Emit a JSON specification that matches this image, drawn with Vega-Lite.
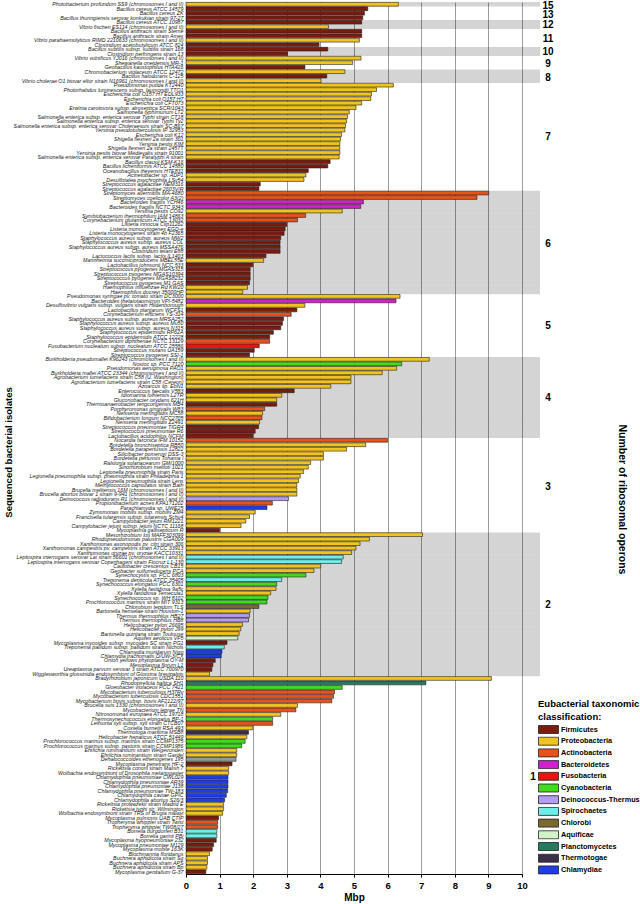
{
  "$schema": "https://vega.github.io/schema/vega-lite/v6.json",
  "width": 336,
  "height": 872,
  "autosize": {"type": "none"},
  "padding": {"left": 186, "top": 2, "right": 118, "bottom": 30},
  "background": "white",
  "config": {"font": "Liberation Sans", "view": {"stroke": null},
    "axisX": {"tickCount": 10, "grid": true, "gridColor": "#9c9c9c", "gridWidth": 1,
      "domainColor": "#000", "tickColor": "#000", "tickSize": 3, "labelFontSize": 9.5, "labelFontWeight": "bold",
      "labelColor": "#000", "labelPadding": 3, "labelFlush": false, "labelOverlap": false, "titleFontSize": 10,
      "titleFontWeight": "bold", "titleColor": "#000", "titlePadding": 3}},
  "data": {"values": [
    {"name": "Photobacterium profundum SS9 (chromosomes I and II)", "mbp": 6.32, "phylum": "Proteobacteria", "ops": 15},
    {"name": "Bacillus cereus ATCC 14579", "mbp": 5.41, "phylum": "Firmicutes", "ops": 13},
    {"name": "Bacillus cereus ZK", "mbp": 5.31, "phylum": "Firmicutes", "ops": 13},
    {"name": "Bacillus thuringiensis serovar konkukian strain 97-27", "mbp": 5.26, "phylum": "Firmicutes", "ops": 13},
    {"name": "Bacillus cereus ATCC 10987", "mbp": 5.23, "phylum": "Firmicutes", "ops": 12},
    {"name": "Vibrio fischeri ES114 (chromosomes I and II)", "mbp": 4.24, "phylum": "Proteobacteria", "ops": 12},
    {"name": "Bacillus anthracis strain Sterne", "mbp": 5.23, "phylum": "Firmicutes", "ops": 11},
    {"name": "Bacillus anthracis strain Ames", "mbp": 5.23, "phylum": "Firmicutes", "ops": 11},
    {"name": "Vibrio parahaemolyticus RIMD 2210633 (chromosomes I and II)", "mbp": 5.16, "phylum": "Proteobacteria", "ops": 11},
    {"name": "Clostridium acetobutylicum ATCC 824", "mbp": 3.96, "phylum": "Firmicutes", "ops": 11},
    {"name": "Bacillus subtilis subsp. subtilis strain 168", "mbp": 4.22, "phylum": "Firmicutes", "ops": 10},
    {"name": "Clostridium perfringens strain 13", "mbp": 3.02, "phylum": "Firmicutes", "ops": 10},
    {"name": "Vibrio vulnificus YJ016 (chromosomes I and II)", "mbp": 5.21, "phylum": "Proteobacteria", "ops": 9},
    {"name": "Shewanella oneidensis MR-1", "mbp": 4.96, "phylum": "Proteobacteria", "ops": 9},
    {"name": "Geobacillus kaustophilus HTA426", "mbp": 3.54, "phylum": "Firmicutes", "ops": 9},
    {"name": "Chromobacterium violaceum ATCC 12472", "mbp": 4.73, "phylum": "Proteobacteria", "ops": 8},
    {"name": "Bacillus halodurans C-125", "mbp": 4.19, "phylum": "Firmicutes", "ops": 8},
    {"name": "Vibrio cholerae O1 biovar eltor strain N16961 (chromosomes I and II)", "mbp": 4.02, "phylum": "Proteobacteria", "ops": 8},
    {"name": "Pseudomonas putida KT2440", "mbp": 6.17, "phylum": "Proteobacteria", "ops": 7},
    {"name": "Photorhabdus luminescens subsp. laumondii TTO1", "mbp": 5.67, "phylum": "Proteobacteria", "ops": 7},
    {"name": "Escherichia coli O157:H7 EDL933", "mbp": 5.52, "phylum": "Proteobacteria", "ops": 7},
    {"name": "Escherichia coli O157:H7", "mbp": 5.5, "phylum": "Proteobacteria", "ops": 7},
    {"name": "Escherichia coli CFT073", "mbp": 5.23, "phylum": "Proteobacteria", "ops": 7},
    {"name": "Erwinia carotovora subsp. atroseptica SCRI1043", "mbp": 5.06, "phylum": "Proteobacteria", "ops": 7},
    {"name": "Salmonella typhimurium LT2", "mbp": 4.86, "phylum": "Proteobacteria", "ops": 7},
    {"name": "Salmonella enterica subsp. enterica serovar Typhi strain CT18", "mbp": 4.81, "phylum": "Proteobacteria", "ops": 7},
    {"name": "Salmonella enterica subsp. enterica serovar Typhi Ty2", "mbp": 4.78, "phylum": "Proteobacteria", "ops": 7},
    {"name": "Salmonella enterica subsp. enterica serovar Choleraesuis strain SC-B67", "mbp": 4.75, "phylum": "Proteobacteria", "ops": 7},
    {"name": "Yersinia pseudotuberculosis IP 32953", "mbp": 4.73, "phylum": "Proteobacteria", "ops": 7},
    {"name": "Escherichia coli K12", "mbp": 4.63, "phylum": "Proteobacteria", "ops": 7},
    {"name": "Shigella flexneri 2a strain 301", "mbp": 4.6, "phylum": "Proteobacteria", "ops": 7},
    {"name": "Yersinia pestis KIM", "mbp": 4.58, "phylum": "Proteobacteria", "ops": 7},
    {"name": "Shigella flexneri 2a strain 2457T", "mbp": 4.58, "phylum": "Proteobacteria", "ops": 7},
    {"name": "Yersinia pestis biovar Medievalis strain 91001", "mbp": 4.58, "phylum": "Proteobacteria", "ops": 7},
    {"name": "Salmonella enterica subsp. enterica serovar Paratyphi A strain", "mbp": 4.56, "phylum": "Proteobacteria", "ops": 7},
    {"name": "Bacillus clausii KSM-K16", "mbp": 4.29, "phylum": "Firmicutes", "ops": 7},
    {"name": "Bacillus licheniformis ATCC 14580", "mbp": 4.22, "phylum": "Firmicutes", "ops": 7},
    {"name": "Oceanobacillus iheyensis HTE831", "mbp": 3.64, "phylum": "Firmicutes", "ops": 7},
    {"name": "Acinetobacter sp. ADP1", "mbp": 3.57, "phylum": "Proteobacteria", "ops": 7},
    {"name": "Desulfotalea psychrophila LSv54", "mbp": 3.51, "phylum": "Proteobacteria", "ops": 7},
    {"name": "Streptococcus agalactiae NEM316", "mbp": 2.21, "phylum": "Firmicutes", "ops": 7},
    {"name": "Streptococcus agalactiae 2603V/R", "mbp": 2.17, "phylum": "Firmicutes", "ops": 7},
    {"name": "Streptomyces avermitilis MA-4680", "mbp": 9.01, "phylum": "Actinobacteria", "ops": 6},
    {"name": "Streptomyces coelicolor A3(2)", "mbp": 8.66, "phylum": "Actinobacteria", "ops": 6},
    {"name": "Bacteroides fragilis YCH46", "mbp": 5.28, "phylum": "Bacteroidetes", "ops": 6},
    {"name": "Bacteroides fragilis NCTC 9343", "mbp": 5.2, "phylum": "Bacteroidetes", "ops": 6},
    {"name": "Yersinia pestis CO92", "mbp": 4.65, "phylum": "Proteobacteria", "ops": 6},
    {"name": "Symbiobacterium thermophilum IAM 14863", "mbp": 3.56, "phylum": "Actinobacteria", "ops": 6},
    {"name": "Corynebacterium glutamicum ATCC 13032", "mbp": 3.32, "phylum": "Actinobacteria", "ops": 6},
    {"name": "Listeria innocua Clip11262", "mbp": 3.0, "phylum": "Firmicutes", "ops": 6},
    {"name": "Listeria monocytogenes EGD-e", "mbp": 2.95, "phylum": "Firmicutes", "ops": 6},
    {"name": "Listeria monocytogenes strain 4b F2365", "mbp": 2.92, "phylum": "Firmicutes", "ops": 6},
    {"name": "Staphylococcus aureus subsp. aureus MW2", "mbp": 2.82, "phylum": "Firmicutes", "ops": 6},
    {"name": "Staphylococcus aureus subsp. aureus COL", "mbp": 2.8, "phylum": "Firmicutes", "ops": 6},
    {"name": "Staphylococcus aureus subsp. aureus MSSA476", "mbp": 2.8, "phylum": "Firmicutes", "ops": 6},
    {"name": "Clostridium tetani E88", "mbp": 2.8, "phylum": "Firmicutes", "ops": 6},
    {"name": "Lactococcus lactis subsp. lactis IL1403", "mbp": 2.38, "phylum": "Firmicutes", "ops": 6},
    {"name": "Mannheimia succiniciproducens MBEL55E", "mbp": 2.31, "phylum": "Proteobacteria", "ops": 6},
    {"name": "Lactobacillus johnsonii NCC 533", "mbp": 1.99, "phylum": "Firmicutes", "ops": 6},
    {"name": "Streptococcus pyogenes MGAS315", "mbp": 1.91, "phylum": "Firmicutes", "ops": 6},
    {"name": "Streptococcus pyogenes MGAS10394", "mbp": 1.91, "phylum": "Firmicutes", "ops": 6},
    {"name": "Streptococcus pyogenes MGAS8232", "mbp": 1.91, "phylum": "Firmicutes", "ops": 6},
    {"name": "Streptococcus pyogenes M1 GAS", "mbp": 1.89, "phylum": "Firmicutes", "ops": 6},
    {"name": "Haemophilus influenzae Rd KW20", "mbp": 1.83, "phylum": "Proteobacteria", "ops": 6},
    {"name": "Haemophilus ducreyi 35000HP", "mbp": 1.69, "phylum": "Proteobacteria", "ops": 6},
    {"name": "Pseudomonas syringae pv. tomato strain DC3000", "mbp": 6.37, "phylum": "Proteobacteria", "ops": 5},
    {"name": "Bacteroides thetaiotaomicron VPI-5482", "mbp": 6.25, "phylum": "Bacteroidetes", "ops": 5},
    {"name": "Desulfovibrio vulgaris subsp. vulgaris strain Hildenborough", "mbp": 3.54, "phylum": "Proteobacteria", "ops": 5},
    {"name": "Lactobacillus plantarum WCFS1", "mbp": 3.3, "phylum": "Firmicutes", "ops": 5},
    {"name": "Corynebacterium efficiens YS-314", "mbp": 3.13, "phylum": "Actinobacteria", "ops": 5},
    {"name": "Staphylococcus aureus subsp. aureus MRSA252", "mbp": 2.9, "phylum": "Firmicutes", "ops": 5},
    {"name": "Staphylococcus aureus subsp. aureus Mu50", "mbp": 2.87, "phylum": "Firmicutes", "ops": 5},
    {"name": "Staphylococcus aureus subsp. aureus N315", "mbp": 2.82, "phylum": "Firmicutes", "ops": 5},
    {"name": "Staphylococcus epidermidis RP62A", "mbp": 2.6, "phylum": "Firmicutes", "ops": 5},
    {"name": "Staphylococcus epidermidis ATCC 12228", "mbp": 2.49, "phylum": "Firmicutes", "ops": 5},
    {"name": "Corynebacterium diphtheriae NCTC 13129", "mbp": 2.49, "phylum": "Actinobacteria", "ops": 5},
    {"name": "Fusobacterium nucleatum subsp. nucleatum ATCC 25586", "mbp": 2.18, "phylum": "Fusobacteria", "ops": 5},
    {"name": "Streptococcus mutans UA159", "mbp": 2.03, "phylum": "Firmicutes", "ops": 5},
    {"name": "Streptococcus pyogenes SSI-1", "mbp": 1.89, "phylum": "Firmicutes", "ops": 5},
    {"name": "Burkholderia pseudomallei K96243 (chromosomes I and II)", "mbp": 7.24, "phylum": "Proteobacteria", "ops": 4},
    {"name": "Nostoc sp. PCC 7120", "mbp": 6.42, "phylum": "Cyanobacteria", "ops": 4},
    {"name": "Pseudomonas aeruginosa PAO1", "mbp": 6.27, "phylum": "Proteobacteria", "ops": 4},
    {"name": "Burkholderia mallei ATCC 23344 (chromosomes I and II)", "mbp": 5.84, "phylum": "Proteobacteria", "ops": 4},
    {"name": "Agrobacterium tumefaciens strain C58 (U. Washington)", "mbp": 4.91, "phylum": "Proteobacteria", "ops": 4},
    {"name": "Agrobacterium tumefaciens strain C58 (Cereon)", "mbp": 4.91, "phylum": "Proteobacteria", "ops": 4},
    {"name": "Azoarcus sp. EbN1", "mbp": 4.31, "phylum": "Proteobacteria", "ops": 4},
    {"name": "Enterococcus faecalis V583", "mbp": 3.22, "phylum": "Firmicutes", "ops": 4},
    {"name": "Idiomarina loihiensis L2TR", "mbp": 2.85, "phylum": "Proteobacteria", "ops": 4},
    {"name": "Gluconobacter oxydans 621H", "mbp": 2.7, "phylum": "Proteobacteria", "ops": 4},
    {"name": "Thermoanaerobacter tengcongensis MB4", "mbp": 2.7, "phylum": "Firmicutes", "ops": 4},
    {"name": "Porphyromonas gingivalis W83", "mbp": 2.34, "phylum": "Actinobacteria", "ops": 4},
    {"name": "Neisseria meningitidis MC58", "mbp": 2.28, "phylum": "Proteobacteria", "ops": 4},
    {"name": "Bifidobacterium longum NCC2705", "mbp": 2.26, "phylum": "Actinobacteria", "ops": 4},
    {"name": "Neisseria meningitidis Z2491", "mbp": 2.19, "phylum": "Proteobacteria", "ops": 4},
    {"name": "Streptococcus pneumoniae TIGR4", "mbp": 2.16, "phylum": "Firmicutes", "ops": 4},
    {"name": "Streptococcus pneumoniae R6", "mbp": 2.06, "phylum": "Firmicutes", "ops": 4},
    {"name": "Lactobacillus acidophilus NCFM", "mbp": 1.99, "phylum": "Firmicutes", "ops": 4},
    {"name": "Nocardia farcinica IFM 10152", "mbp": 6.0, "phylum": "Actinobacteria", "ops": 3},
    {"name": "Bordetella bronchiseptica RB50", "mbp": 5.35, "phylum": "Proteobacteria", "ops": 3},
    {"name": "Bordetella parapertussis 12822", "mbp": 4.78, "phylum": "Proteobacteria", "ops": 3},
    {"name": "Silicibacter pomeroyi DSS-3", "mbp": 4.09, "phylum": "Proteobacteria", "ops": 3},
    {"name": "Bordetella pertussis Tohama I", "mbp": 4.09, "phylum": "Proteobacteria", "ops": 3},
    {"name": "Ralstonia solanacearum GMI1000", "mbp": 3.71, "phylum": "Proteobacteria", "ops": 3},
    {"name": "Sinorhizobium meliloti 1021", "mbp": 3.64, "phylum": "Proteobacteria", "ops": 3},
    {"name": "Legionella pneumophila strain Paris", "mbp": 3.5, "phylum": "Proteobacteria", "ops": 3},
    {"name": "Legionella pneumophila subsp. pneumophila strain Philadelphia 1", "mbp": 3.4, "phylum": "Proteobacteria", "ops": 3},
    {"name": "Legionella pneumophila strain Lens", "mbp": 3.35, "phylum": "Proteobacteria", "ops": 3},
    {"name": "Methylococcus capsulatus strain Bath", "mbp": 3.3, "phylum": "Proteobacteria", "ops": 3},
    {"name": "Brucella melitensis 16M (chromosomes I and II)", "mbp": 3.3, "phylum": "Proteobacteria", "ops": 3},
    {"name": "Brucella abortus biovar 1 strain 9-941 (chromosomes I and II)", "mbp": 3.3, "phylum": "Proteobacteria", "ops": 3},
    {"name": "Deinococcus radiodurans R1 (chromosomes I and II)", "mbp": 3.05, "phylum": "Deinococcus-Thermus", "ops": 3},
    {"name": "Propionibacterium acnes KPA171202", "mbp": 2.57, "phylum": "Actinobacteria", "ops": 3},
    {"name": "Parachlamydia sp. UWE25", "mbp": 2.41, "phylum": "Chlamydiae", "ops": 3},
    {"name": "Zymomonas mobilis subsp. mobilis ZM4", "mbp": 2.06, "phylum": "Proteobacteria", "ops": 3},
    {"name": "Francisella tularensis subsp. tularensis Schu4", "mbp": 1.89, "phylum": "Proteobacteria", "ops": 3},
    {"name": "Campylobacter jejuni RM1221", "mbp": 1.78, "phylum": "Proteobacteria", "ops": 3},
    {"name": "Campylobacter jejuni subsp. jejuni NCTC 11168", "mbp": 1.64, "phylum": "Proteobacteria", "ops": 3},
    {"name": "Mycoplasma gallisepticum R", "mbp": 1.0, "phylum": "Firmicutes", "ops": 3},
    {"name": "Mesorhizobium loti MAFF303099", "mbp": 7.04, "phylum": "Proteobacteria", "ops": 2},
    {"name": "Rhodopseudomonas palustris CGA009", "mbp": 5.46, "phylum": "Proteobacteria", "ops": 2},
    {"name": "Xanthomonas axonopodis pv. citri strain 306", "mbp": 5.18, "phylum": "Proteobacteria", "ops": 2},
    {"name": "Xanthomonas campestris pv. campestris strain ATCC 33913", "mbp": 5.06, "phylum": "Proteobacteria", "ops": 2},
    {"name": "Xanthomonas oryzae pv. oryzae KACC10331", "mbp": 4.93, "phylum": "Proteobacteria", "ops": 2},
    {"name": "Leptospira interrogans serovar Lai strain 56601 (chromosomes I and II)", "mbp": 4.68, "phylum": "Spirochaetes", "ops": 2},
    {"name": "Leptospira interrogans serovar Copenhageni strain Fiocruz L1-130", "mbp": 4.63, "phylum": "Spirochaetes", "ops": 2},
    {"name": "Caulobacter crescentus CB15", "mbp": 4.01, "phylum": "Proteobacteria", "ops": 2},
    {"name": "Geobacter sulfurreducens PCA", "mbp": 3.81, "phylum": "Proteobacteria", "ops": 2},
    {"name": "Synechocystis sp. PCC 6803", "mbp": 3.57, "phylum": "Cyanobacteria", "ops": 2},
    {"name": "Treponema denticola ATCC 35405", "mbp": 2.85, "phylum": "Spirochaetes", "ops": 2},
    {"name": "Synechococcus elongatus PCC 6301", "mbp": 2.7, "phylum": "Cyanobacteria", "ops": 2},
    {"name": "Xylella fastidiosa 9a5c", "mbp": 2.68, "phylum": "Proteobacteria", "ops": 2},
    {"name": "Xylella fastidiosa Temecula1", "mbp": 2.52, "phylum": "Proteobacteria", "ops": 2},
    {"name": "Synechococcus sp. WH 8102", "mbp": 2.44, "phylum": "Cyanobacteria", "ops": 2},
    {"name": "Prochlorococcus marinus strain MIT 9313", "mbp": 2.41, "phylum": "Cyanobacteria", "ops": 2},
    {"name": "Chlorobium tepidum TLS", "mbp": 2.17, "phylum": "Chlorobi", "ops": 2},
    {"name": "Bartonella henselae strain Houston-1", "mbp": 1.91, "phylum": "Proteobacteria", "ops": 2},
    {"name": "Thermus thermophilus HB27", "mbp": 1.89, "phylum": "Deinococcus-Thermus", "ops": 2},
    {"name": "Thermus thermophilus HB8", "mbp": 1.86, "phylum": "Deinococcus-Thermus", "ops": 2},
    {"name": "Helicobacter pylori 26695", "mbp": 1.68, "phylum": "Proteobacteria", "ops": 2},
    {"name": "Helicobacter pylori J99", "mbp": 1.63, "phylum": "Proteobacteria", "ops": 2},
    {"name": "Bartonella quintana strain Toulouse", "mbp": 1.58, "phylum": "Proteobacteria", "ops": 2},
    {"name": "Aquifex aeolicus VF5", "mbp": 1.54, "phylum": "Aquificae", "ops": 2},
    {"name": "Mycoplasma mycoides subsp. mycoides SC strain PG1", "mbp": 1.22, "phylum": "Firmicutes", "ops": 2},
    {"name": "Treponema pallidum subsp. pallidum strain Nichols", "mbp": 1.14, "phylum": "Spirochaetes", "ops": 2},
    {"name": "Chlamydia muridarum Nigg", "mbp": 1.07, "phylum": "Chlamydiae", "ops": 2},
    {"name": "Chlamydia trachomatis D/UW-3/CX", "mbp": 1.05, "phylum": "Chlamydiae", "ops": 2},
    {"name": "Onion yellows phytoplasma OY-M", "mbp": 0.87, "phylum": "Firmicutes", "ops": 2},
    {"name": "Mesoplasma florum L1", "mbp": 0.8, "phylum": "Firmicutes", "ops": 2},
    {"name": "Ureaplasma parvum serovar 3 strain ATCC 700970", "mbp": 0.77, "phylum": "Firmicutes", "ops": 2},
    {"name": "Wigglesworthia glossinidia endosymbiont of Glossina brevipalpis", "mbp": 0.7, "phylum": "Proteobacteria", "ops": 2},
    {"name": "Bradyrhizobium japonicum USDA 110", "mbp": 9.09, "phylum": "Proteobacteria", "ops": 1},
    {"name": "Rhodopirellula baltica SH1", "mbp": 7.14, "phylum": "Planctomycetes", "ops": 1},
    {"name": "Gloeobacter violaceus PCC 7421", "mbp": 4.65, "phylum": "Cyanobacteria", "ops": 1},
    {"name": "Mycobacterium tuberculosis H37Rv", "mbp": 4.42, "phylum": "Actinobacteria", "ops": 1},
    {"name": "Mycobacterium tuberculosis CDC1551", "mbp": 4.39, "phylum": "Actinobacteria", "ops": 1},
    {"name": "Mycobacterium bovis subsp. bovis AF2122/97", "mbp": 4.34, "phylum": "Actinobacteria", "ops": 1},
    {"name": "Brucella suis 1330 (chromosomes I and II)", "mbp": 3.32, "phylum": "Proteobacteria", "ops": 1},
    {"name": "Mycobacterium leprae TN", "mbp": 3.27, "phylum": "Actinobacteria", "ops": 1},
    {"name": "Nitrosomonas europaea ATCC 19718", "mbp": 2.82, "phylum": "Proteobacteria", "ops": 1},
    {"name": "Thermosynechococcus elongatus BP-1", "mbp": 2.58, "phylum": "Cyanobacteria", "ops": 1},
    {"name": "Leifsonia xyli subsp. xyli strain CTCB07", "mbp": 2.58, "phylum": "Actinobacteria", "ops": 1},
    {"name": "Coxiella burnetii RSA 493", "mbp": 1.99, "phylum": "Proteobacteria", "ops": 1},
    {"name": "Thermotoga maritima MSB8", "mbp": 1.86, "phylum": "Thermotogae", "ops": 1},
    {"name": "Helicobacter hepaticus ATCC 51449", "mbp": 1.81, "phylum": "Proteobacteria", "ops": 1},
    {"name": "Prochlorococcus marinus subsp. marinus strain CCMP1375", "mbp": 1.76, "phylum": "Cyanobacteria", "ops": 1},
    {"name": "Prochlorococcus marinus subsp. pastoris strain CCMP1986", "mbp": 1.66, "phylum": "Cyanobacteria", "ops": 1},
    {"name": "Ehrlichia ruminantium strain Welgevonden", "mbp": 1.51, "phylum": "Proteobacteria", "ops": 1},
    {"name": "Ehrlichia ruminantium strain Gardel", "mbp": 1.51, "phylum": "Proteobacteria", "ops": 1},
    {"name": "Dehalococcoides ethenogenes 195", "mbp": 1.49, "phylum": "Chloroflexi", "ops": 1},
    {"name": "Mycoplasma penetrans HF-2", "mbp": 1.37, "phylum": "Firmicutes", "ops": 1},
    {"name": "Rickettsia conorii strain Malish 7", "mbp": 1.27, "phylum": "Proteobacteria", "ops": 1},
    {"name": "Wolbachia endosymbiont of Drosophila melanogaster", "mbp": 1.27, "phylum": "Proteobacteria", "ops": 1},
    {"name": "Chlamydophila pneumoniae CWL029", "mbp": 1.25, "phylum": "Chlamydiae", "ops": 1},
    {"name": "Chlamydophila pneumoniae AR39", "mbp": 1.25, "phylum": "Chlamydiae", "ops": 1},
    {"name": "Chlamydophila pneumoniae J138", "mbp": 1.25, "phylum": "Chlamydiae", "ops": 1},
    {"name": "Chlamydophila pneumoniae TW-183", "mbp": 1.24, "phylum": "Chlamydiae", "ops": 1},
    {"name": "Chlamydophila caviae GPIC", "mbp": 1.2, "phylum": "Chlamydiae", "ops": 1},
    {"name": "Chlamydophila abortus S26/3", "mbp": 1.15, "phylum": "Chlamydiae", "ops": 1},
    {"name": "Rickettsia prowazekii strain Madrid E", "mbp": 1.12, "phylum": "Proteobacteria", "ops": 1},
    {"name": "Rickettsia typhi str. Wilmington", "mbp": 1.12, "phylum": "Proteobacteria", "ops": 1},
    {"name": "Wolbachia endosymbiont strain TRS of Brugia malayi", "mbp": 1.09, "phylum": "Proteobacteria", "ops": 1},
    {"name": "Mycoplasma pulmonis UAB CTIP", "mbp": 0.97, "phylum": "Firmicutes", "ops": 1},
    {"name": "Tropheryma whipplei strain Twist", "mbp": 0.94, "phylum": "Actinobacteria", "ops": 1},
    {"name": "Tropheryma whipplei TW08/27", "mbp": 0.94, "phylum": "Actinobacteria", "ops": 1},
    {"name": "Borrelia burgdorferi B31", "mbp": 0.92, "phylum": "Spirochaetes", "ops": 1},
    {"name": "Borrelia garinii PBi", "mbp": 0.92, "phylum": "Spirochaetes", "ops": 1},
    {"name": "Mycoplasma hyopneumoniae 232", "mbp": 0.9, "phylum": "Firmicutes", "ops": 1},
    {"name": "Mycoplasma pneumoniae M129", "mbp": 0.82, "phylum": "Firmicutes", "ops": 1},
    {"name": "Mycoplasma mobile 163K", "mbp": 0.78, "phylum": "Firmicutes", "ops": 1},
    {"name": "Blochmannia floridanus", "mbp": 0.7, "phylum": "Proteobacteria", "ops": 1},
    {"name": "Buchnera aphidicola strain Sg", "mbp": 0.64, "phylum": "Proteobacteria", "ops": 1},
    {"name": "Buchnera aphidicola strain APS", "mbp": 0.64, "phylum": "Proteobacteria", "ops": 1},
    {"name": "Buchnera aphidicola strain Bp", "mbp": 0.62, "phylum": "Proteobacteria", "ops": 1},
    {"name": "Mycoplasma genitalium G-37", "mbp": 0.59, "phylum": "Firmicutes", "ops": 1}
  ]},
  "layer": [
    {
      "mark": {"type": "rect", "fill": "#000000", "x2Offset": 18},
      "encoding": {
        "y": {"field": "name", "type": "nominal", "sort": null, "axis": null, "scale": {"paddingInner": 0, "paddingOuter": 0}},
        "x": {"datum": 0, "type": "quantitative", "scale": {"domain": [0, 10], "nice": false}, "axis": {"title": "Mbp"}},
        "x2": {"datum": 10},
        "fillOpacity": {"condition": {"test": "datum.ops == 15 || datum.ops % 2 == 0", "value": 0.17}, "value": 0}
      }
    },
    {
      "mark": {"type": "bar", "height": {"band": 0.84}, "stroke": "#222222", "strokeWidth": 0.6},
      "encoding": {
        "y": {"field": "name", "type": "nominal", "sort": null,
          "scale": {"paddingInner": 0, "paddingOuter": 0},
          "axis": {"title": "Sequenced bacterial isolates", "titleFontSize": 9.5, "titleFontWeight": "bold", "titleColor": "#000",
            "titleX": -178, "titleY": 450, "titleAngle": 270, "titleBaseline": "middle", "titleAlign": "center",
            "labelFontSize": 5.3, "labelFontStyle": "italic", "labelColor": "#222", "labelPadding": 3, "labelLimit": 400,
            "labelOverlap": false, "labelBound": false, "ticks": false, "domainColor": "#000"}},
        "x": {"field": "mbp", "type": "quantitative", "scale": {"domain": [0, 10], "nice": false}, "axis": {"title": "Mbp"}},
        "color": {"field": "phylum", "type": "nominal",
          "scale": {"domain": ["Firmicutes","Proteobacteria","Actinobacteria","Bacteroidetes","Fusobacteria","Cyanobacteria","Deinococcus-Thermus","Spirochaetes","Chlorobi","Aquificae","Planctomycetes","Thermotogae","Chlamydiae","Chloroflexi"],
            "range": ["#7a1b0e","#f1c31d","#e8521c","#d51fcf","#e8140f","#3fdc1d","#b49cf0","#6deeea","#7a6a2f","#d3f3c6","#247a5c","#3c2e4a","#1f3de3","#8f9d96"]},
          "legend": {"orient": "none", "legendX": 352, "legendY": 697,
            "values": ["Firmicutes","Proteobacteria","Actinobacteria","Bacteroidetes","Fusobacteria","Cyanobacteria","Deinococcus-Thermus","Spirochaetes","Chlorobi","Aquificae","Planctomycetes","Thermotogae","Chlamydiae"],
            "title": ["Eubacterial taxonomic", "classification:"], "titleFontSize": 9.5, "titleFontWeight": "bold", "titleColor": "#000",
            "titleLineHeight": 13, "titlePadding": 3, "titleLimit": 300,
            "labelFontSize": 7.3, "labelFontWeight": "bold", "labelColor": "#000", "labelOffset": 2, "labelLimit": 200,
            "symbolType": "M-1,-0.4H1V0.4H-1Z", "symbolSize": 400, "symbolStrokeColor": "#222", "symbolStrokeWidth": 0.8,
            "symbolOpacity": 1, "clipHeight": 10, "rowPadding": 1.7}}
      }
    },
    {
      "transform": [
        {"window": [{"op": "row_number", "as": "rn"}], "groupby": ["ops"]},
        {"joinaggregate": [{"op": "count", "as": "cnt"}], "groupby": ["ops"]},
        {"filter": "datum.rn == ceil(datum.cnt / 2) && datum.ops != 1 && datum.cnt % 2 == 1"}
      ],
      "mark": {"type": "text", "fontSize": 10, "fontWeight": "bold", "dx": 26, "dy": 1.8, "align": "center", "baseline": "middle", "color": "#000"},
      "encoding": {
        "y": {"field": "name", "type": "nominal", "sort": null, "scale": {"paddingInner": 0, "paddingOuter": 0},
          "axis": {"orient": "right", "title": "Number of ribosomal operons", "labels": false, "ticks": false, "domain": false,
            "titleAngle": 90, "titleFontSize": 10.5, "titleFontWeight": "bold", "titleColor": "#000",
            "titleX": 99, "titleY": 497, "titleAlign": "center", "titleBaseline": "middle"}},
        "x": {"datum": 10, "type": "quantitative", "axis": {"title": "Mbp"}},
        "text": {"field": "ops", "type": "nominal"}
      }
    },
    {
      "transform": [
        {"window": [{"op": "row_number", "as": "rn"}], "groupby": ["ops"]},
        {"joinaggregate": [{"op": "count", "as": "cnt"}], "groupby": ["ops"]},
        {"filter": "datum.rn == datum.cnt / 2 && datum.ops != 1"}
      ],
      "mark": {"type": "text", "fontSize": 10, "fontWeight": "bold", "dx": 26, "dy": 2.8, "align": "center", "baseline": "middle", "color": "#000"},
      "encoding": {
        "y": {"field": "name", "type": "nominal", "sort": null, "scale": {"paddingInner": 0, "paddingOuter": 0}, "axis": null},
        "x": {"datum": 10, "type": "quantitative", "axis": {"title": "Mbp"}},
        "text": {"field": "ops", "type": "nominal"}
      }
    },
    {
      "transform": [
        {"filter": "datum.ops == 1"},
        {"window": [{"op": "row_number", "as": "rn"}]},
        {"joinaggregate": [{"op": "count", "as": "cnt"}]},
        {"filter": "datum.rn == datum.cnt / 2"}
      ],
      "mark": {"type": "text", "fontSize": 10, "fontWeight": "bold", "dx": 11, "dy": 4, "align": "center", "baseline": "middle", "color": "#000"},
      "encoding": {
        "y": {"field": "name", "type": "nominal", "sort": null, "scale": {"paddingInner": 0, "paddingOuter": 0}, "axis": null},
        "x": {"datum": 10, "type": "quantitative", "axis": {"title": "Mbp"}},
        "text": {"field": "ops", "type": "nominal"}
      }
    }
  ],
  "resolve": {"axis": {"y": "independent"}}
}
